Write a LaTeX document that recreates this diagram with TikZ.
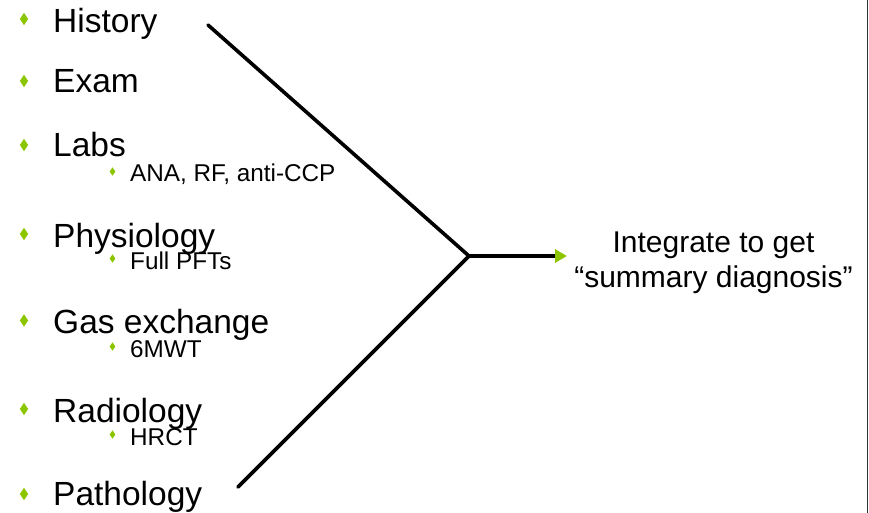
\documentclass[tikz,border=0pt]{standalone}
\usepackage{fontspec}
\setmainfont{Liberation Sans}
\usetikzlibrary{shapes.geometric,arrows.meta}
\definecolor{bulletgreen}{RGB}{140,198,0}
\definecolor{framegray}{RGB}{50,50,50}
\begin{document}
\begin{tikzpicture}[x=1pt,y=1pt,
  mainitem/.style={anchor=base west,inner sep=0pt,font=\fontsize{33.5}{40}\selectfont},
  subitem/.style={anchor=base west,inner sep=0pt,font=\fontsize{24.3}{29}\selectfont},
  mainbullet/.style={diamond,fill=bulletgreen,inner sep=0pt,minimum width=8.5pt,minimum height=12.5pt},
  subbullet/.style={diamond,fill=bulletgreen,inner sep=0pt,minimum width=6pt,minimum height=8.5pt},
  branch/.style={line width=3.6pt,line cap=round},
  result/.style={align=center,inner sep=0pt,font=\fontsize{30}{35}\selectfont}]
\useasboundingbox (0,0) rectangle (869,-513);
% main items
\node[mainitem] (hist) at (53,-33) {History};
\node[mainitem] (exam) at (53,-93) {Exam};
\node[mainitem] (labs) at (53,-157) {Labs};
\node[mainitem] (phys) at (53,-247) {Physiology};
\node[mainitem] (gas) at (53,-333) {Gas exchange};
\node[mainitem] (rad) at (53,-422) {Radiology};
\node[mainitem] (path) at (53,-505) {Pathology};
\node[mainbullet] (b1) at (24,-19) {};
\node[mainbullet] (b2) at (24,-81) {};
\node[mainbullet] (b3) at (24,-145) {};
\node[mainbullet] (b4) at (24,-234) {};
\node[mainbullet] (b5) at (24,-320.5) {};
\node[mainbullet] (b6) at (24,-409) {};
\node[mainbullet] (b7) at (24,-494) {};
% sub items
\node[subitem] (ana) at (130,-182) {ANA, RF, anti-CCP};
\node[subitem] (pft) at (130,-269) {Full PFTs};
\node[subitem] (mwt) at (130,-357) {6MWT};
\node[subitem] (hrct) at (130,-445) {HRCT};
\node[subbullet] (s1) at (112.5,-171.5) {};
\node[subbullet] (s2) at (112.5,-258.5) {};
\node[subbullet] (s3) at (112.5,-346.5) {};
\node[subbullet] (s4) at (112.5,-434.5) {};
% result
\node[result] (intg) at (713.5,-263) {Integrate to get\\“summary diagnosis”};
% connectors
\coordinate (top) at (208,-25);
\coordinate (bot) at (238,-487);
\coordinate (j) at (469,-256);
\coordinate (tip) at (567,-256);
\draw[branch] (top) -- (j) -- (bot);
\draw[line width=3.6pt,-{Triangle[length=12pt,width=13pt,color=bulletgreen]}] (j) -- (tip);
% frame line
\draw[framegray,line width=1.3pt] (867.6,0) -- (867.6,-513);
\end{tikzpicture}
\end{document}
